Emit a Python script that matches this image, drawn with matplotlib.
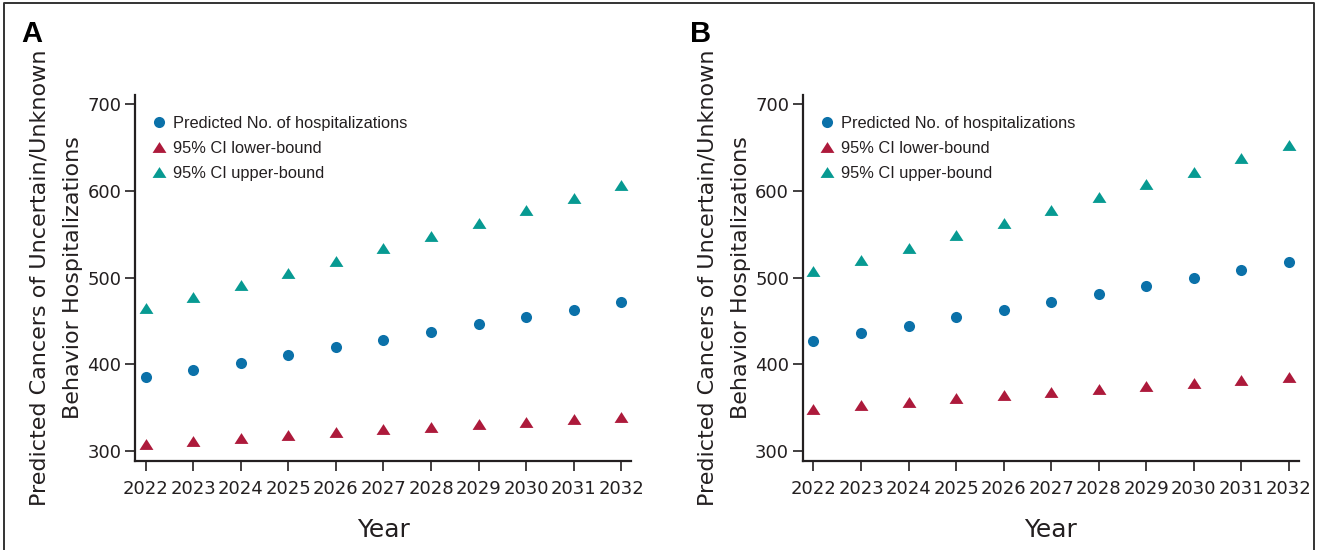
import matplotlib.pyplot as plt
from matplotlib.lines import Line2D

NARROW = ['DejaVu Sans Condensed', 'Liberation Sans Narrow', 'DejaVu Sans']
plt.rcParams['font.family'] = NARROW

years = [2022, 2023, 2024, 2025, 2026, 2027, 2028, 2029, 2030, 2031, 2032]

# panel A
pred_a = [385, 393, 402, 411, 420, 428, 437, 446, 455, 463, 472]
lower_a = [308, 312, 315, 318, 322, 325, 328, 331, 334, 337, 339]
upper_a = [465, 478, 491, 505, 519, 534, 548, 563, 578, 592, 607]

# panel B
pred_b = [427, 436, 444, 454, 463, 472, 481, 490, 499, 509, 518]
lower_b = [349, 353, 357, 361, 365, 368, 372, 375, 378, 382, 385]
upper_b = [507, 520, 534, 549, 563, 578, 593, 608, 622, 638, 653]

yticks = [300, 400, 500, 600, 700]

BLUE = '#0b71a9'
RED = '#ad1a3b'
TEAL = '#079a92'
INK = '#231f20'

# flattened triangle, wider than tall
tri = [(-1, -0.78), (1, -0.78), (0, 0.78), (-1, -0.78)]

fig = plt.figure(figsize=(13.19, 5.5), dpi=100)

panels = [
    ('A', 0.1025, pred_a, lower_a, upper_a),
    ('B', 0.6088, pred_b, lower_b, upper_b),
]

for letter, left, pred, lower, upper in panels:
    ax = fig.add_axes([left, 0.1618, 0.3760, 0.6655])
    ax.plot(years, pred, 'o', color=BLUE, ms=8, mec='none',
            label='Predicted No. of hospitalizations')
    ax.plot(years, lower, marker=tri, ls='none', color=RED, ms=10, mec='none',
            label='95% CI lower-bound')
    ax.plot(years, upper, marker=tri, ls='none', color=TEAL, ms=10, mec='none',
            label='95% CI upper-bound')

    ax.set_xlim(2021.78, 2032.21)
    ax.set_ylim(288.5, 710.4)
    ax.set_xticks(years)
    ax.set_yticks(yticks)
    for s in ['top', 'right']:
        ax.spines[s].set_visible(False)
    for s in ['left', 'bottom']:
        ax.spines[s].set_linewidth(1.6)
        ax.spines[s].set_color(INK)
    ax.tick_params(axis='both', direction='out', length=7, width=1.2,
                   color=INK, labelsize=13, labelcolor=INK)
    ax.tick_params(axis='x', pad=7)
    ax.tick_params(axis='y', pad=3)

    ax.set_xlabel('Year', fontsize=18, color=INK, labelpad=14)
    ax.set_ylabel('Predicted Cancers of Uncertain/Unknown\nBehavior Hospitalizations',
                  fontsize=16, color=INK, labelpad=3, linespacing=1.85)

    leg = ax.legend(loc='upper left', bbox_to_anchor=(0.012, 0.975), frameon=False,
                    prop={'family': ['Liberation Sans', 'DejaVu Sans'], 'size': 11.8},
                    handlelength=0.8, handletextpad=0.45, labelspacing=0.62,
                    borderaxespad=0.3)
    for t in leg.get_texts():
        t.set_color(INK)

    fig.text(left - 0.086, 0.938, letter, fontsize=21, fontweight='bold',
             family=['Liberation Sans', 'DejaVu Sans'], color='black', va='center')

# thin frame around the figure (top, left, right)
fig.add_artist(Line2D([0.003, 0.003, 0.9965, 0.9965], [0.0, 0.994, 0.994, 0.0],
                      transform=fig.transFigure, color='#333333', lw=1.4))

fig.savefig('out.png', dpi=100)
